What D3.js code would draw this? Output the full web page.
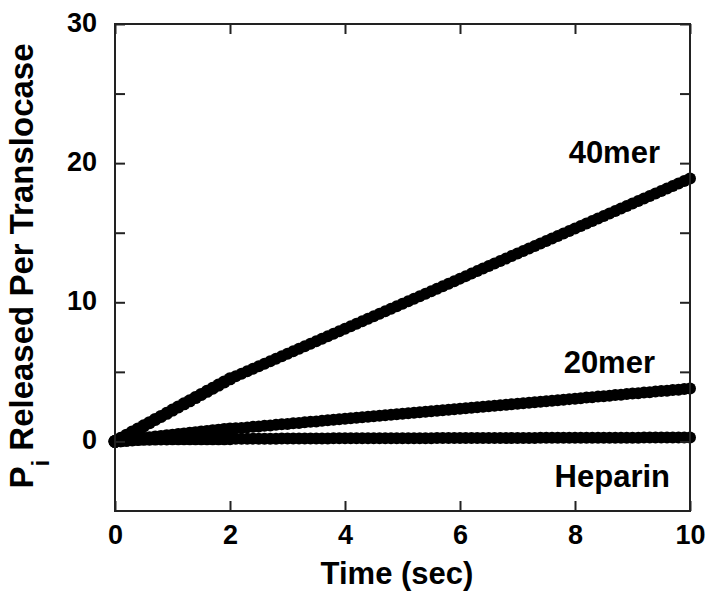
<!DOCTYPE html>
<html>
<head>
<meta charset="utf-8">
<script src="https://cdn.jsdelivr.net/npm/d3@7"></script>
<style>
  html, body { margin: 0; padding: 0; background: #fff; }
  svg { display: block; }
  text { font-family: "Liberation Sans", Arial, Helvetica, sans-serif; font-weight: bold; fill: #000; }
</style>
</head>
<body>
<svg id="chart" width="716" height="601"></svg>
<script>
// ---- data ----
const time = [0.0,0.1,0.2,0.3,0.4,0.5,0.6,0.7,0.8,0.9,1.0,1.1,1.2,1.3,1.4,1.5,1.6,1.7,1.8,1.9,
  2.0,2.1,2.2,2.3,2.4,2.5,2.6,2.7,2.8,2.9,3.0,3.1,3.2,3.3,3.4,3.5,3.6,3.7,3.8,3.9,
  4.0,4.1,4.2,4.3,4.4,4.5,4.6,4.7,4.8,4.9,5.0,5.1,5.2,5.3,5.4,5.5,5.6,5.7,5.8,5.9,
  6.0,6.1,6.2,6.3,6.4,6.5,6.6,6.7,6.8,6.9,7.0,7.1,7.2,7.3,7.4,7.5,7.6,7.7,7.8,7.9,
  8.0,8.1,8.2,8.3,8.4,8.5,8.6,8.7,8.8,8.9,9.0,9.1,9.2,9.3,9.4,9.5,9.6,9.7,9.8,9.9,10.0];

const mer40 = [0.00,0.22,0.45,0.68,0.90,1.12,1.35,1.58,1.80,2.02,2.25,2.48,2.70,2.92,3.15,3.38,3.60,3.82,4.05,4.28,
  4.50,4.68,4.86,5.04,5.22,5.40,5.58,5.76,5.94,6.12,6.30,6.48,6.66,6.84,7.02,7.20,7.38,7.56,7.74,7.92,
  8.10,8.28,8.46,8.64,8.82,9.00,9.18,9.36,9.54,9.72,9.90,10.08,10.26,10.44,10.62,10.80,10.98,11.16,11.34,11.52,
  11.70,11.88,12.06,12.24,12.42,12.60,12.78,12.96,13.14,13.32,13.50,13.68,13.86,14.04,14.22,14.40,14.58,14.76,14.94,15.12,
  15.30,15.48,15.66,15.84,16.02,16.20,16.38,16.56,16.74,16.92,17.10,17.28,17.46,17.64,17.82,18.00,18.18,18.36,18.54,18.72,18.90];

const mer20 = [0.00,0.05,0.09,0.14,0.18,0.23,0.27,0.32,0.36,0.41,0.45,0.50,0.54,0.59,0.63,0.68,0.72,0.77,0.81,0.86,
  0.90,0.94,0.97,1.01,1.05,1.08,1.12,1.15,1.19,1.23,1.26,1.30,1.33,1.37,1.41,1.44,1.48,1.52,1.55,1.59,
  1.63,1.66,1.70,1.73,1.77,1.81,1.84,1.88,1.91,1.95,1.99,2.02,2.06,2.10,2.13,2.17,2.20,2.24,2.28,2.31,
  2.35,2.39,2.42,2.46,2.49,2.53,2.57,2.60,2.64,2.67,2.71,2.75,2.78,2.82,2.86,2.89,2.93,2.96,3.00,3.04,
  3.07,3.11,3.15,3.18,3.22,3.25,3.29,3.33,3.36,3.40,3.44,3.47,3.51,3.54,3.58,3.62,3.65,3.69,3.72,3.76,3.80];

const heparin = [0.00,0.04,0.08,0.11,0.13,0.15,0.16,0.17,0.18,0.18,0.19,0.19,0.19,0.19,0.19,0.19,0.19,0.19,0.19,0.19,
  0.20,0.20,0.20,0.20,0.20,0.20,0.20,0.20,0.20,0.21,0.21,0.21,0.21,0.21,0.21,0.21,0.21,0.21,0.22,0.22,
  0.22,0.22,0.22,0.22,0.22,0.22,0.22,0.23,0.23,0.23,0.23,0.23,0.23,0.23,0.23,0.23,0.24,0.24,0.24,0.24,
  0.24,0.24,0.24,0.24,0.24,0.25,0.25,0.25,0.25,0.25,0.25,0.25,0.25,0.25,0.26,0.26,0.26,0.26,0.26,0.26,
  0.26,0.26,0.26,0.27,0.27,0.27,0.27,0.27,0.27,0.27,0.27,0.27,0.28,0.28,0.28,0.28,0.28,0.28,0.29,0.29,0.29];

const seriesNames = ["40mer", "20mer", "Heparin"];
const xTicks = [0, 2, 4, 6, 8, 10];
const yTicks = [0, 5, 10, 15, 20, 25, 30];
const yLabelled = [0, 10, 20, 30];
const xTitle = "Time (sec)";
const yTitleMain = "P";
const yTitleSub = "i";
const yTitleRest = " Released Per Translocase";

// ---- layout ----
const svg = d3.select("#chart");
const L = 115, R = 690, T = 24, B = 511;
const x = d3.scaleLinear().domain([0, 10]).range([L, R]);
const y = d3.scaleLinear().domain([-5, 30]).range([B, T]);

const axisColor = "#222";

// data markers
const series = [mer40, mer20, heparin];
const g = svg.append("g");
series.forEach((vals) => {
  g.append("g").selectAll("circle")
    .data(time.map((t, i) => [t, vals[i]]))
    .join("circle")
    .attr("cx", d => x(d[0]))
    .attr("cy", d => y(d[1]))
    .attr("r", d => d[0] <= 2 ? 6.5 : 6)
    .attr("fill", "#000");
});

// frame
svg.append("rect")
  .attr("x", L).attr("y", T).attr("width", R - L).attr("height", B - T)
  .attr("fill", "none").attr("stroke", axisColor).attr("stroke-width", 2);

function styleAxis(sel) {
  sel.select(".domain").remove();
  sel.selectAll(".tick line").attr("stroke", axisColor).attr("stroke-width", 2);
  sel.selectAll("text").attr("font-size", 27).attr("font-weight", "bold")
    .attr("font-family", "'Liberation Sans', Arial, sans-serif").attr("fill", "#000");
}

// left axis
svg.append("g").attr("transform", `translate(${L},0)`)
  .call(d3.axisLeft(y).tickValues(yTicks).tickSizeInner(-10).tickSizeOuter(0).tickPadding(18)
    .tickFormat(d => yLabelled.includes(d) ? d : ""))
  .call(styleAxis)
  .call(s => s.selectAll("text").attr("dy", "0.28em"));

// right axis
svg.append("g").attr("transform", `translate(${R},0)`)
  .call(d3.axisRight(y).tickValues(yTicks).tickSizeInner(-10).tickSizeOuter(0).tickFormat(""))
  .call(styleAxis);

// bottom axis
svg.append("g").attr("transform", `translate(0,${B})`)
  .call(d3.axisBottom(x).tickValues(xTicks).tickSizeInner(-10).tickSizeOuter(0).tickPadding(14))
  .call(styleAxis);

// top axis
svg.append("g").attr("transform", `translate(0,${T})`)
  .call(d3.axisTop(x).tickValues(xTicks).tickSizeInner(-10).tickSizeOuter(0).tickFormat(""))
  .call(styleAxis);

// x title
svg.append("text")
  .attr("x", 397).attr("y", 584)
  .attr("text-anchor", "middle")
  .attr("font-size", 31)
  .text(xTitle);

// y title
const yt = svg.append("text")
  .attr("transform", `translate(33,266) rotate(-90)`)
  .attr("text-anchor", "middle")
  .attr("font-size", 33);
yt.append("tspan").text(yTitleMain);
yt.append("tspan").attr("font-size", 24).attr("dy", 16).text(yTitleSub);
yt.append("tspan").attr("dy", -16).text(yTitleRest);

// series annotations
const labelPos = [[660, 163], [655, 373], [670, 487]];
seriesNames.forEach((name, i) => {
  svg.append("text")
    .attr("x", labelPos[i][0]).attr("y", labelPos[i][1])
    .attr("text-anchor", "end")
    .attr("font-size", 31)
    .text(name);
});
</script>
</body>
</html>
